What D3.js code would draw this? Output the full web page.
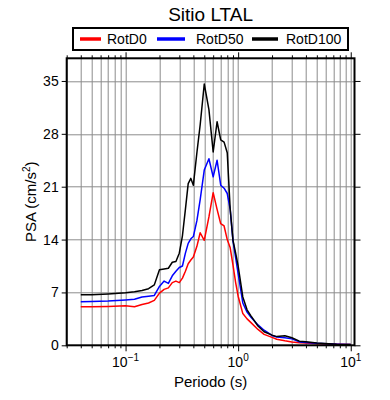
<!DOCTYPE html>
<html>
<head>
<meta charset="utf-8">
<title>Sitio LTAL</title>
<script src="https://cdn.jsdelivr.net/npm/d3@7"></script>
<style>
body { margin: 0; background: #fff; }
svg { font-family: "Liberation Sans", Arial, Helvetica, sans-serif; }
</style>
<script>
// periods (s) and spectral accelerations (cm/s2)
var periods = [0.04, 0.05, 0.07, 0.1, 0.12, 0.14, 0.16, 0.18, 0.2, 0.22, 0.24, 0.26, 0.28, 0.3,
  0.32, 0.34, 0.36, 0.38, 0.4, 0.43, 0.46, 0.5, 0.55, 0.6, 0.65, 0.7, 0.75, 0.8, 0.85, 0.9,
  0.95, 1.0, 1.1, 1.2, 1.3, 1.5, 1.7, 2.0, 2.2, 2.6, 3.0, 3.5, 4.0, 5.0, 7.5, 10];

var rotD0 = [5.1, 5.1, 5.15, 5.24, 5.1, 5.4, 5.6, 5.95, 6.9, 7.4, 7.6, 8.3, 8.5, 8.3,
  8.9, 9.8, 10.8, 11.3, 11.7, 13.1, 14.9, 13.9, 17.0, 20.2, 18.0, 16.1, 15.8, 14.0, 12.9, 10.6,
  8.3, 6.5, 4.2, 3.5, 3.0, 2.1, 1.45, 1.05, 0.8, 0.6, 0.45, 0.35, 0.3, 0.22, 0.15, 0.1];

var rotD50 = [5.77, 5.8, 5.85, 6.0, 6.1, 6.4, 6.5, 6.6, 7.8, 8.5, 8.2, 9.2, 9.8, 10.3,
  10.5, 12.2, 13.5, 14.1, 14.4, 16.5, 19.3, 23.2, 24.7, 22.3, 24.5, 21.2, 20.8, 20.1, 18.0, 13.8,
  11.6, 9.5, 5.6, 4.4, 3.7, 2.7, 2.0, 1.3, 1.1, 1.0, 0.85, 0.45, 0.38, 0.27, 0.15, 0.1];

var rotD100 = [6.7, 6.7, 6.8, 6.95, 7.1, 7.25, 7.5, 8.0, 10.0, 10.1, 10.2, 11.0, 11.1, 12.2,
  14.5, 18.0, 21.4, 22.1, 21.2, 25.5, 29.2, 34.6, 31.2, 25.6, 29.6, 27.2, 26.9, 25.5, 18.0, 13.9,
  12.2, 10.5, 6.4, 4.7, 3.9, 2.55, 1.8, 1.35, 1.15, 1.27, 1.0, 0.55, 0.48, 0.3, 0.15, 0.1];

var seriesNames = ["RotD0", "RotD50", "RotD100"];
var seriesColors = ["#ff0000", "#0000ff", "#000000"];
var yTicks = [0, 7, 14, 21, 28, 35];
var decadeTicks = [-1, 0, 1];

window.onload = function() {
  var W = 390, H = 400;
  var m = { left: 66.7, right: 35.5, top: 58.3, bottom: 54.7 };
  var pw = W - m.left - m.right, ph = H - m.top - m.bottom;

  var svg = d3.select("body").append("svg").attr("width", W).attr("height", H);

  var x = d3.scaleLog().domain([0.03, 10.8]).range([0, pw]);
  var y = d3.scaleLinear().domain([0, 38]).range([ph, 0]);

  var g = svg.append("g").attr("transform", "translate(" + m.left + "," + m.top + ")");

  // minor + major positions in the log range
  var allTicks = [];
  for (var e = -2; e <= 1; e++) {
    for (var k = 1; k <= 9; k++) {
      var v = k * Math.pow(10, e);
      if (v >= 0.03 && v <= 10.8) allTicks.push(+v.toPrecision(3));
    }
  }
  var majors = decadeTicks.map(function(p) { return Math.pow(10, p); });
  var minors = allTicks.filter(function(v) { return majors.indexOf(v) < 0; });

  // grid
  g.append("g").selectAll("line.vg").data(allTicks).enter().append("line")
    .attr("x1", function(d) { return Math.round(x(d)) + 0.5; })
    .attr("x2", function(d) { return Math.round(x(d)) + 0.5; })
    .attr("y1", 0).attr("y2", ph)
    .attr("stroke", "#8c8c8c").attr("stroke-width", 1);
  g.append("g").selectAll("line.hg").data(yTicks.slice(1)).enter().append("line")
    .attr("x1", 0).attr("x2", pw)
    .attr("y1", function(d) { return Math.round(y(d)) + 0.5; })
    .attr("y2", function(d) { return Math.round(y(d)) + 0.5; })
    .attr("stroke", "#8c8c8c").attr("stroke-width", 1);

  // curves
  var series = [rotD0, rotD50, rotD100];
  var line = d3.line()
    .x(function(d, i) { return x(periods[i]); })
    .y(function(d) { return y(d); });
  series.forEach(function(s, i) {
    g.append("path").datum(s)
      .attr("d", line)
      .attr("fill", "none")
      .attr("stroke", seriesColors[i])
      .attr("stroke-width", 1.5)
      .attr("stroke-linejoin", "round");
  });

  // axes ticks
  function styleAxis(sel) {
    sel.select(".domain").remove();
    sel.selectAll(".tick line").attr("stroke", "#000").attr("stroke-width", 1);
    sel.selectAll(".tick text").remove();
  }
  g.append("g").attr("transform", "translate(0," + ph + ")")
    .call(d3.axisBottom(x).tickValues(minors).tickSize(3)).call(styleAxis);
  g.append("g").attr("transform", "translate(0," + ph + ")")
    .call(d3.axisBottom(x).tickValues(majors).tickSize(6)).call(styleAxis);
  g.append("g").call(d3.axisTop(x).tickValues(minors).tickSize(3)).call(styleAxis);
  g.append("g").call(d3.axisTop(x).tickValues(majors).tickSize(6)).call(styleAxis);
  g.append("g").call(d3.axisLeft(y).tickValues(yTicks).tickSize(5)).call(styleAxis);
  g.append("g").attr("transform", "translate(" + pw + ",0)")
    .call(d3.axisRight(y).tickValues(yTicks).tickSize(6)).call(styleAxis);

  // frame
  g.append("rect").attr("x", 0).attr("y", 0).attr("width", pw).attr("height", ph)
    .attr("fill", "none").attr("stroke", "#000").attr("stroke-width", 2);

  // y tick labels
  g.append("g").selectAll("text").data(yTicks).enter().append("text")
    .attr("x", -8).attr("y", function(d) { return y(d); })
    .attr("dy", "0.36em")
    .attr("text-anchor", "end")
    .attr("font-size", 14)
    .text(function(d) { return d; });

  // x tick labels 10^n
  var xl = g.append("g").selectAll("text").data(decadeTicks).enter().append("text")
    .attr("x", function(d) { return x(Math.pow(10, d)); })
    .attr("y", ph + 22)
    .attr("text-anchor", "middle")
    .attr("font-size", 14);
  xl.append("tspan").text("10");
  xl.append("tspan").attr("font-size", 10).attr("dy", -6)
    .text(function(d) { return d < 0 ? "\u2212" + (-d) : d; });

  // axis titles
  g.append("text").attr("x", pw / 2).attr("y", ph + 42)
    .attr("text-anchor", "middle").attr("font-size", 15).text("Periodo (s)");
  var yl = g.append("text")
    .attr("transform", "translate(" + (-31) + "," + (ph / 2) + ") rotate(-90)")
    .attr("text-anchor", "middle").attr("font-size", 15);
  yl.append("tspan").text("PSA (cm/s");
  yl.append("tspan").attr("font-size", 10).attr("dy", -6).text("2");
  yl.append("tspan").attr("dy", 6).text(")");

  // title
  svg.append("text").attr("x", m.left + pw / 2).attr("y", 21)
    .attr("text-anchor", "middle").attr("font-size", 19).text("Sitio LTAL");

  // legend
  var lg = svg.append("g");
  lg.append("rect").attr("x", 73).attr("y", 28).attr("width", 275).attr("height", 22)
    .attr("fill", "#fff").attr("stroke", "#000").attr("stroke-width", 2);
  var legX = [80, 157, 252];
  var legLen = [21, 28, 26];
  var legTextX = [107, 196, 286];
  seriesNames.forEach(function(n, i) {
    lg.append("line").attr("x1", legX[i]).attr("x2", legX[i] + legLen[i])
      .attr("y1", 39).attr("y2", 39)
      .attr("stroke", seriesColors[i]).attr("stroke-width", 3.5);
    lg.append("text").attr("x", legTextX[i]).attr("y", 44)
      .attr("font-size", 14).text(n);
  });
};
</script>
</head>
<body>
</body>
</html>
